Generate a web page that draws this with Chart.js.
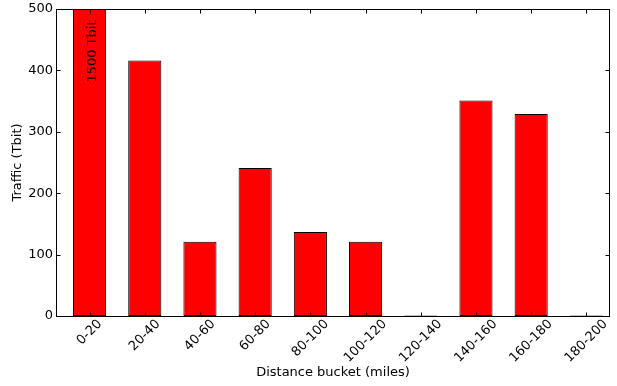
<!DOCTYPE html>
<html>
<head>
<meta charset="utf-8">
<script src="https://cdn.jsdelivr.net/npm/chart.js@4/dist/chart.umd.min.js"></script>
<style>
  html, body { margin: 0; padding: 0; background: #fff; }
  #wrap { width: 617px; height: 386px; }
</style>
</head>
<body>
<div id="wrap"><canvas id="myChart"></canvas></div>
<script>
  const categories = ['0-20', '20-40', '40-60', '60-80', '80-100', '100-120', '120-140', '140-160', '160-180', '180-200'];
  const traffic = [1500, 416, 121, 241, 137, 121, 1, 351, 329, 1];
  const yTicks = [0, 100, 200, 300, 400, 500];

  Chart.defaults.font.family = 'DejaVu Sans';
  Chart.defaults.color = '#000';

  // matplotlib-like frame, inward ticks, rotated centred x labels, note on clipped bar
  const framePlugin = {
    id: 'frame',
    afterDatasetsDraw(chart) {
      const { ctx, chartArea: a, scales: { x, y } } = chart;
      const L = Math.round(a.left) - 0.5, R = Math.round(a.right) + 0.5;
      const T = Math.round(a.top) + 0.5, B = Math.round(a.bottom) + 0.5;
      ctx.save();
      ctx.strokeStyle = '#000';
      ctx.lineWidth = 1;
      ctx.strokeRect(L, T, R - L, B - T);
      ctx.beginPath();
      categories.forEach((c, i) => {
        const px = Math.round(x.getPixelForValue(i)) + 0.5;
        ctx.moveTo(px, B); ctx.lineTo(px, B - 4);
        ctx.moveTo(px, T); ctx.lineTo(px, T + 4);
      });
      y.ticks.forEach(t => {
        const py = Math.round(y.getPixelForValue(t.value)) + 0.5;
        ctx.moveTo(L, py); ctx.lineTo(L + 4, py);
        ctx.moveTo(R, py); ctx.lineTo(R - 4, py);
      });
      ctx.stroke();

      ctx.font = '13px "DejaVu Sans"';
      ctx.fillStyle = '#000';
      ctx.textAlign = 'center';
      ctx.textBaseline = 'middle';
      categories.forEach((c, i) => {
        const w = ctx.measureText(c).width;
        const half = (w + 10) * Math.SQRT1_2 / 2;
        ctx.save();
        ctx.translate(x.getPixelForValue(i), B + 2 + half);
        ctx.rotate(-Math.PI / 4);
        ctx.fillText(c, 0, 0);
        ctx.restore();
      });

      const meta = chart.getDatasetMeta(0);
      traffic.forEach((v, i) => {
        if (v <= y.max) return;
        const el = meta.data[i];
        ctx.save();
        ctx.translate(el.x + 3, T + 42);
        ctx.rotate(-Math.PI / 2);
        ctx.fillText(v + ' Tbit', 0, 0);
        ctx.restore();
      });
      ctx.restore();
    }
  };

  new Chart(document.getElementById('myChart'), {
    type: 'bar',
    data: {
      datasets: [{
        data: traffic.map((v, i) => ({ x: i, y: v })),
        backgroundColor: '#ff0000',
        borderColor: '#000',
        borderWidth: 1,
        borderSkipped: false,
        categoryPercentage: 1,
        barPercentage: 0.6
      }]
    },
    options: {
      responsive: true,
      maintainAspectRatio: false,
      animation: false,
      layout: { padding: { top: 9, right: 8, left: 0, bottom: 0 } },
      plugins: { legend: { display: false }, tooltip: { enabled: false } },
      scales: {
        x: {
          type: 'linear',
          offset: false,
          min: -0.59,
          max: 9.41,
          grid: { display: false },
          border: { display: false },
          ticks: { display: false },
          title: {
            display: true,
            text: 'Distance bucket (miles)',
            font: { size: 13, lineHeight: 1.2 },
            padding: { top: 0, bottom: 6 }
          },
          afterFit(scale) { scale.height = 70; }
        },
        y: {
          min: 0,
          max: 500,
          grid: { display: false, drawTicks: false },
          border: { display: false },
          afterBuildTicks(scale) { scale.ticks = yTicks.map(v => ({ value: v })); },
          ticks: { padding: 4, font: { size: 13 } },
          title: {
            display: true,
            text: 'Traffic (Tbit)',
            font: { size: 13, lineHeight: 1.2 },
            padding: { top: 10, bottom: 0 }
          },
          afterFit(scale) {
            scale.width = 57;
            scale.paddingTop = 0;
            scale.paddingBottom = 0;
          }
        }
      }
    },
    plugins: [framePlugin]
  });
</script>
</body>
</html>
